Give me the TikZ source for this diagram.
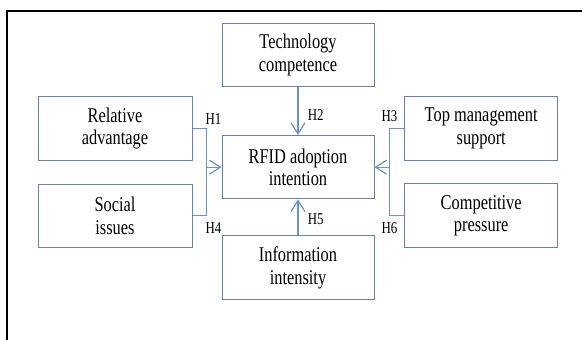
\documentclass[tikz,border=0pt]{standalone}
\usepackage{fontspec}
\setmainfont{Liberation Serif}[FakeStretch=0.78]
\usetikzlibrary{arrows.meta}
\definecolor{boxc}{RGB}{100,130,170}
\definecolor{arrc}{RGB}{110,145,195}
\tikzset{
  box/.style={draw=boxc, line width=1pt, fill=white, minimum width=152pt, minimum height=63.5pt,
    inner sep=0pt, align=center, font=\fontsize{21}{22.5}\selectfont},
  conn/.style={draw=arrc, line width=1.2pt},
  arr/.style={conn, -{Straight Barb[length=11pt,width=14pt,line width=1.2pt]}},
  hlab/.style={anchor=base, inner sep=0pt, font=\fontsize{16.5}{18}\selectfont}
}
\begin{document}
\begin{tikzpicture}[x=1pt,y=-1pt]
\useasboundingbox[fill=white] (0,0) rectangle (582,340);
\draw[line width=2pt] (6.5,340) -- (6.5,10.5) -- (582,10.5);
\node[box] (tech) at (298,55) {Technology\\competence};
\node[box] (rfid) at (298,167.2) {RFID adoption\\intention};
\node[box] (info) at (298,267.7) {Information\\intensity};
\node[box, minimum width=154pt] (rel) at (115,128.3) {Relative\\advantage};
\node[box, minimum width=154pt] (soc) at (115,215.8) {Social\\issues};
\node[box, minimum width=152.5pt] (top) at (481.2,128.5) {Top management\\support};
\node[box, minimum width=152.5pt] (comp) at (481.2,215.6) {Competitive\\pressure};
\coordinate (jl) at (206.7,167.2);
\coordinate (jr) at (389.7,167.2);
\draw[conn] (rel.east) -| (jl) |- (soc.east);
\draw[conn] (top.west) -| (jr) |- (comp.west);
\draw[arr] (jl) -- (rfid.west);
\draw[arr] (jr) -- (rfid.east);
\draw[arr] (tech.south) -- (rfid.north);
\draw[arr] (info.north) -- (rfid.south);
\node[hlab] (h1) at (213.4,124) {H1};
\node[hlab] (h2) at (315.8,120.7) {H2};
\node[hlab] (h3) at (389.5,121.7) {H3};
\node[hlab] (h4) at (213.4,233.3) {H4};
\node[hlab] (h5) at (315.8,224) {H5};
\node[hlab] (h6) at (389.5,233.3) {H6};
\end{tikzpicture}
\end{document}
